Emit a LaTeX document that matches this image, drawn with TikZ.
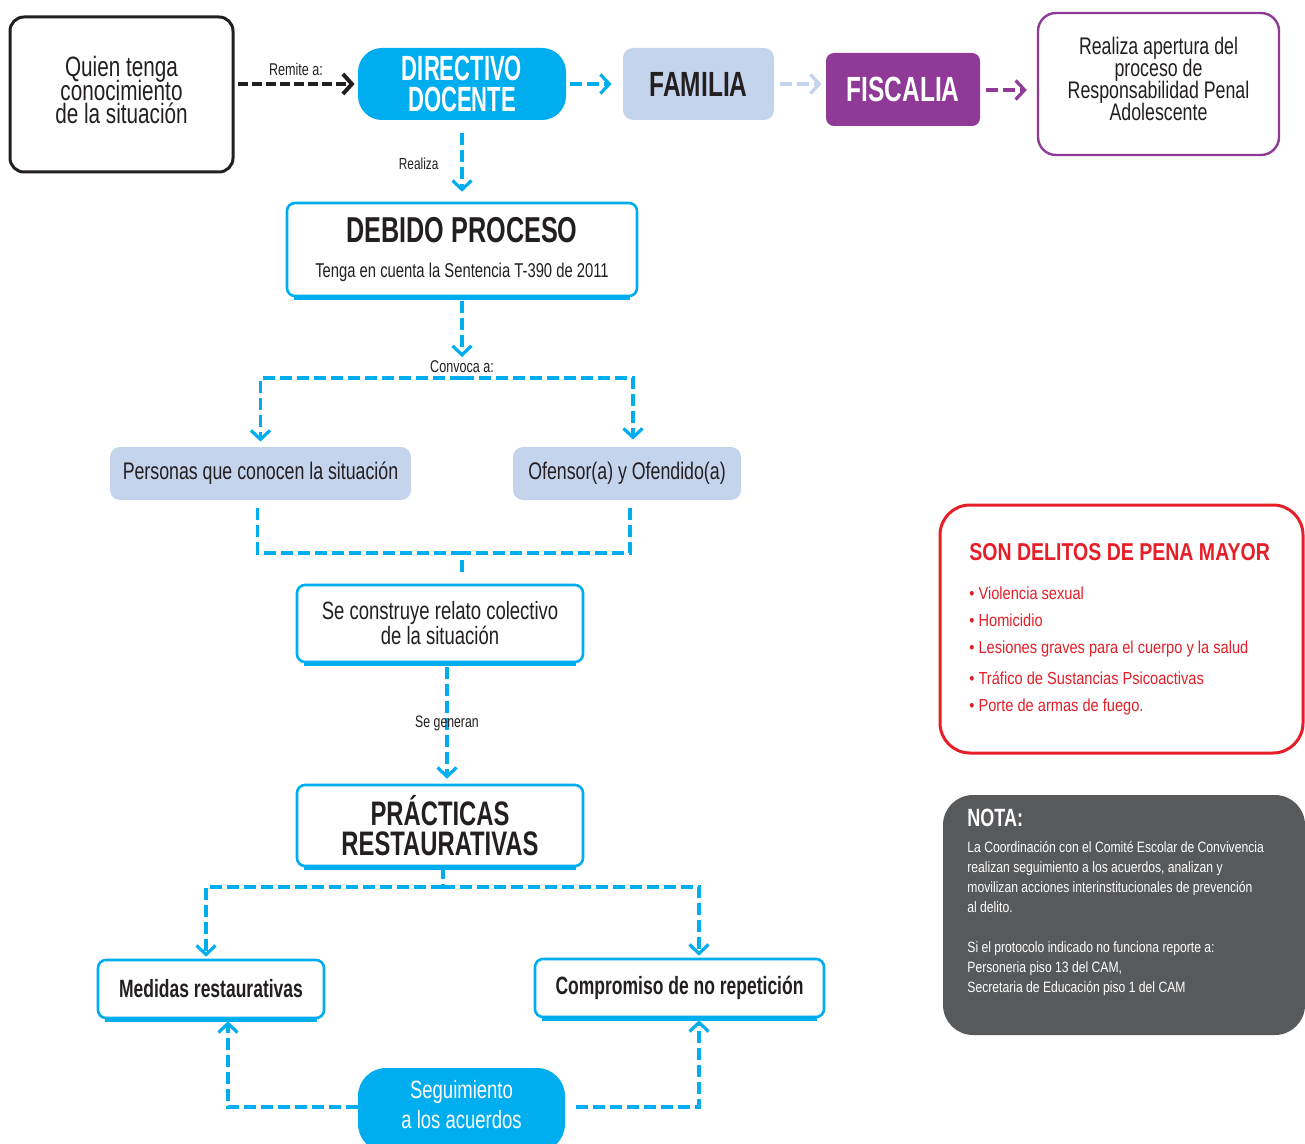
\documentclass[tikz,border=0pt]{standalone}
\usepackage{fontspec}
\setmainfont{Liberation Sans}
\newfontfamily\cnd{Liberation Sans}[FakeStretch=0.74]
\newfontfamily\cndb{Liberation Sans}[FakeStretch=0.7]
\newfontfamily\cndd{Liberation Sans}[FakeStretch=0.63]
\newfontfamily\redf{Liberation Sans}[FakeStretch=0.84]
\newfontfamily\notaf{Liberation Sans}[FakeStretch=0.81]
\newfontfamily\notab{Liberation Sans}[FakeStretch=0.72]
\usetikzlibrary{arrows.meta,positioning,scopes}
\definecolor{cy}{RGB}{0,174,239}
\definecolor{lb}{RGB}{197,212,237}
\definecolor{pu}{RGB}{142,58,150}
\definecolor{rd}{RGB}{230,30,40}
\definecolor{gr}{RGB}{88,89,91}
\definecolor{ink}{RGB}{35,31,32}
\lineskiplimit=-20pt

\begin{document}
\begin{tikzpicture}[x=0.5pt,y=-0.5pt,
    every node/.style={text=ink,inner sep=0pt},
    flow/.style={draw=cy,line width=1.6pt,dash pattern=on 6pt off 2.5pt},
    tip/.style={-{Straight Barb[length=4.5pt,width=9.5pt]}},
    wbox/.style={draw=cy,line width=1.3pt,fill=white,rounded corners=4pt,align=center},
    sbox/.style={fill=lb,rounded corners=5pt,align=center},
    cbox/.style={fill=cy,rounded corners=12pt,text=white,align=center},
    lab/.style={font=\cnd\fontsize{8}{9}\selectfont},
    big/.style={font=\cndb\bfseries\fontsize{17.5}{15}\selectfont},
]
\useasboundingbox (0,0) rectangle (1305,1144);

% top row
\node[draw=ink,line width=1.5pt,rounded corners=7pt,minimum width=111.5pt,minimum height=77.5pt] (quien) at (121.5,94.5) {};
\node[align=center,font=\cnd\fontsize{14}{11.8}\selectfont] (quientxt) at (121.5,90) {Quien tenga\\conocimiento\\de la situación};
\node[cbox,minimum width=104pt,minimum height=36pt,font=\cndd\bfseries\fontsize{17.5}{15.5}\selectfont] (dir) at (462,84) {DIRECTIVO\\DOCENTE};
\node[sbox,big,minimum width=75.5pt,minimum height=36pt] (fam) at (698.5,84) {FAMILIA};
\node[fill=pu,rounded corners=4pt,text=white,big,minimum width=77pt,minimum height=36.5pt] (fis) at (903,89.5) {FISCALIA};
\node[draw=pu,line width=1.2pt,fill=white,rounded corners=9pt,minimum width=120.5pt,minimum height=71pt] (real) at (1158.5,84) {};
\node[align=center,font=\cnd\fontsize{12}{11.1}\selectfont] (realtxt) at (1158.5,79)
    {Realiza apertura del\\proceso de\\Responsabilidad Penal\\Adolescente};

{[line width=2pt,dash pattern=on 5pt off 2pt]
    \draw[draw=ink,-{Straight Barb[length=4.5pt,width=10pt]},shorten <=1.5pt,shorten >=1.5pt]
        (quien.east |- dir.west) -- node[lab,font=\cnd\fontsize{8.5}{9}\selectfont,above=3pt] {Remite a:} (dir.west);
}
{[flow,tip]
    \draw[shorten <=2pt,shorten >=5.5pt] (dir.east) -- (fam.west);
    \draw[draw=lb,shorten <=3pt,shorten >=2pt] (fam.east) -- (fam.east -| fis.west);
    \draw[draw=pu,shorten <=3pt,shorten >=5pt] (fis.east |- 0,90) -- (real.west |- 0,90);
}

% debido proceso
\node[wbox,minimum width=175pt,minimum height=46.5pt,font=\cnd\fontsize{10}{17.5}\selectfont] (deb) at (462,249.5)
    {{\cndb\bfseries\fontsize{18}{18}\selectfont DEBIDO PROCESO}\\{Tenga en cuenta la Sentencia T-390 de 2011}};
\draw[flow,tip,shorten <=6.5pt,shorten >=5pt] (dir.south) -- node[lab,left=11pt,yshift=-1.5pt] {Realiza} (deb.north);

\node[sbox,minimum width=150.5pt,minimum height=26.5pt,font=\cnd\fontsize{12}{14}\selectfont] (per) at (260.5,473.5)
    {Personas que conocen la situación};
\node[sbox,minimum width=114pt,minimum height=26.5pt,font=\cnd\fontsize{12}{14}\selectfont] (ofe) at (627,473.5)
    {Ofensor(a) y Ofendido(a)};

\coordinate (cvtip) at (462,357);
\coordinate (cv) at (462,378);
\node[lab,font=\cnd\fontsize{8.5}{10}\selectfont] (cvlab) at (462,367) {Convoca a:};
\draw[flow,tip,shorten <=2pt] (deb.south) -- (cvtip);
\draw[flow,tip,shorten >=2.5pt] (cv) -| (per.north);
\draw[flow,tip,shorten >=3.5pt] (cv) -| ([xshift=3pt]ofe.north);

% relato
\node[wbox,minimum width=143pt,minimum height=38.5pt,font=\cnd\fontsize{12.5}{12.5}\selectfont] (rel) at (440,623.5)
    {Se construye relato colectivo\\de la situación};
\coordinate (jn) at (462,553);
\draw[flow,shorten <=4pt] ([xshift=-1.5pt]per.south) |- (jn);
\draw[flow,shorten <=4pt] ([xshift=1.5pt]ofe.south) |- (jn);
\draw[flow,shorten <=3.5pt,shorten >=5pt] (jn) -- (jn |- rel.north);

% practicas
\node[wbox,minimum width=143pt,minimum height=40.5pt,font=\cndb\bfseries\fontsize{17}{15}\selectfont] (pra) at (440,825.5)
    {PRÁCTICAS\\RESTAURATIVAS};
\draw[flow,tip,shorten <=2pt,shorten >=2.5pt] ([xshift=3.5pt]rel.south) --
    node[lab,font=\cnd\fontsize{8.3}{10}\selectfont] {Se generan} ([xshift=3.5pt]rel.south |- pra.north);

\node[wbox,minimum width=113pt,minimum height=29pt,font=\cndb\bfseries\fontsize{12.5}{14}\selectfont] (med) at (211,989)
    {Medidas restaurativas};
\node[wbox,minimum width=144.5pt,minimum height=29pt,font=\cndb\bfseries\fontsize{12.5}{14}\selectfont] (com) at (679.5,988)
    {Compromiso de no repetición};
\coordinate (pj) at (443,887);
\draw[flow] ([xshift=1.5pt]pra.south) -- (pj);
\draw[flow,tip,shorten >=1pt] (pj) -| ([xshift=-2.5pt]med.north);
\draw[flow,tip,shorten >=1pt] (pj) -| ([xshift=9.75pt]com.north);

\foreach \b in {deb,rel,pra,med,com}
    \draw[cy,line width=2.2pt] ([xshift=4pt,yshift=-0.3pt]\b.south west) -- ([xshift=-4pt,yshift=-0.3pt]\b.south east);

% seguimiento
\node[cbox,rounded corners=14pt,minimum width=103.5pt,minimum height=42pt] (seg) at (461.5,1110) {};
\node[align=center,text=white,font=\cnd\fontsize{12.5}{15}\selectfont] (segtxt) at (461.5,1105) {Seguimiento\\a los acuerdos};
\draw[flow,tip,shorten >=1pt] ([yshift=1.5pt]seg.west) -| ([xshift=8.5pt]med.south);
\draw[flow,tip,shorten <=5.5pt,shorten >=1pt] ([yshift=1.5pt]seg.east) -| ([xshift=9.75pt]com.south);

% side boxes
\node[draw=rd,line width=1.5pt,rounded corners=15pt,minimum width=181.5pt,minimum height=124pt] (del) at (1121.5,629) {};
\node[anchor=north west,align=left,text=rd,font=\redf\fontsize{8.7}{13.5}\selectfont] (deltxt) at (969,543)
    {{\fontspec{Liberation Sans}[FakeStretch=0.8]\bfseries\fontsize{12.2}{14}\selectfont SON DELITOS DE PENA MAYOR}\\[6pt]
     \textbullet\ Violencia sexual\\
     \textbullet\ Homicidio\\
     \textbullet\ Lesiones graves para el cuerpo y la salud\\[2pt]
     \textbullet\ Tráfico de Sustancias Psicoactivas\\
     \textbullet\ Porte de armas de fuego.};

\node[fill=gr,rounded corners=15pt,minimum width=181pt,minimum height=120pt] (nota) at (1124,915) {};
\node[anchor=north west,align=left,text=white,font=\notaf\fontsize{7.5}{10}\selectfont] (notatxt) at (967,809)
    {{\notab\bfseries\fontsize{12.5}{14}\selectfont NOTA:}\\[3pt]
     La Coordinación con el Comité Escolar de Convivencia\\
     realizan seguimiento a los acuerdos, analizan y\\
     movilizan acciones interinstitucionales de prevención\\
     al delito.\\[10pt]
     Si el protocolo indicado no funciona reporte a:\\
     Personeria piso 13 del CAM,\\
     Secretaria de Educación piso 1 del CAM};
\end{tikzpicture}
\end{document}
